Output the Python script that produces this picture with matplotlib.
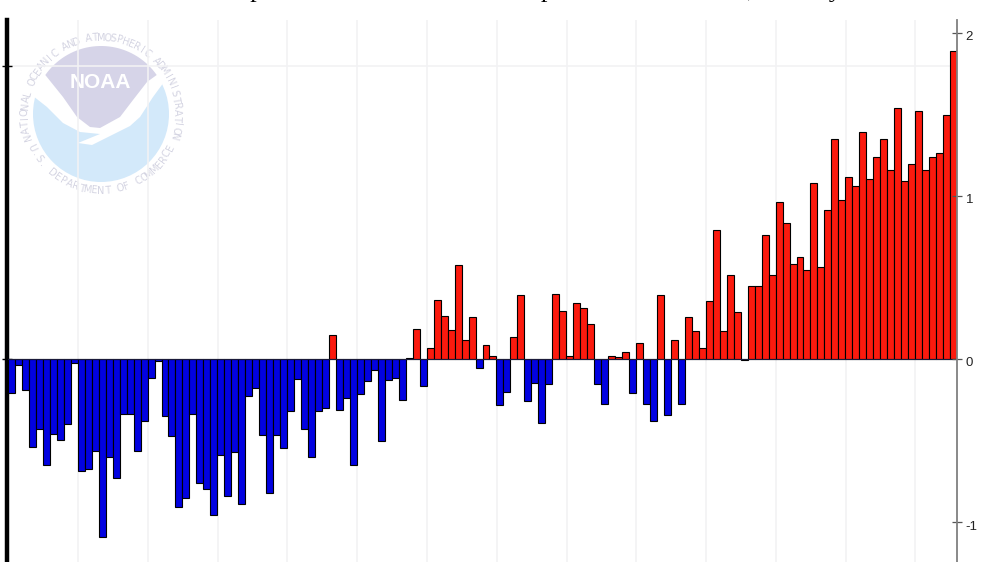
import numpy as np
import matplotlib
matplotlib.use("Agg")
import matplotlib.pyplot as plt
from matplotlib.patches import Circle, Polygon
from matplotlib.transforms import ScaledTranslation

# anomalies, one per year
years = list(range(1880, 2016))
anomalies = [
    -0.21, -0.035, -0.19, -0.54, -0.43, -0.65, -0.46, -0.495, -0.40, -0.025,
    -0.685, -0.675, -0.565, -1.09, -0.60, -0.73, -0.335, -0.34, -0.565, -0.38,
    -0.115, -0.01, -0.35, -0.47, -0.91, -0.85, -0.34, -0.76, -0.80, -0.955,
    -0.59, -0.84, -0.57, -0.89, -0.23, -0.18, -0.465, -0.825, -0.465, -0.545,
    -0.32, -0.12, -0.43, -0.60, -0.32, -0.30, 0.147, -0.31, -0.24, -0.65,
    -0.215, -0.135, -0.07, -0.50, -0.13, -0.115, -0.25, 0.005, 0.185, -0.165,
    0.07, 0.36, 0.265, 0.18, 0.575, 0.115, 0.26, -0.057, 0.085, 0.02,
    -0.28, -0.205, 0.137, 0.395, -0.255, -0.145, -0.39, -0.155, 0.40, 0.295,
    0.02, 0.345, 0.31, 0.215, -0.155, -0.275, 0.02, 0.015, 0.045, -0.21,
    0.098, -0.275, -0.38, 0.39, -0.345, 0.115, -0.275, 0.258, 0.17, 0.07,
    0.354, 0.793, 0.174, 0.513, 0.288, -0.005, 0.45, 0.446, 0.763, 0.513,
    0.963, 0.834, 0.585, 0.628, 0.548, 1.078, 0.564, 0.916, 1.348, 0.977,
    1.117, 1.06, 1.395, 1.106, 1.237, 1.348, 1.157, 1.54, 1.09, 1.198,
    1.523, 1.157, 1.24, 1.264, 1.497, 1.89,
]
right_ticks = [-1, 0, 1, 2]
right_labels = ["-1", "0", "1", "2"]
left_ticks = [0, 1.8]
grid_years = list(range(1890, 2011, 10))
title = "Northern Hemisphere Land and Ocean Temperature Anomalies, January-December"

W, H = 1000, 562
fig = plt.figure(figsize=(W / 100, H / 100), dpi=100)

# logo sits behind everything, drawn in pixel coordinates
bg = fig.add_axes([0, 0, 1, 1], zorder=0)
bg.set_xlim(0, W)
bg.set_ylim(H, 0)
bg.axis("off")

cx, cy, r = 101, 114, 68
lav = "#d6d4e8"
sky = "#d3e9fa"
bg.add_patch(Circle((cx, cy), r, fc=sky, ec="none"))
bird = [(28, 70), (33, 96), (47, 107), (63, 123), (80, 132), (100, 134), (78, 143), (92, 145),
        (110, 136), (130, 126), (140, 117), (153, 97), (164, 82), (172, 60), (100, 30)]
bg.add_patch(Polygon(bird, fc="white", ec="none"))
angles = np.radians(np.linspace(145, 35, 40))
top = [(cx + r * np.cos(a), cy - r * np.sin(a)) for a in angles]
belly = [(147, 82), (133, 100), (120, 117), (100, 128), (90, 127), (77, 117), (63, 97)]
bg.add_patch(Polygon(top + belly, fc=lav, ec="none"))
bg.text(100, 82, "NOAA", color="white", fontsize=15, fontweight="bold", ha="center", va="center",
        family="Liberation Sans")


def ring_text(text, a0, a1, radius, flip=False):
    for ch, a in zip(text, np.linspace(a0, a1, len(text))):
        t = np.radians(a)
        rot = a + 90 if flip else a - 90
        bg.text(cx + radius * np.cos(t), cy - radius * np.sin(t), ch, color="#d4d4e2", fontsize=7,
                rotation=rot, rotation_mode="anchor", ha="center", va="center")


ring_text("NATIONAL OCEANIC AND ATMOSPHERIC ADMINISTRATION", 197, -17, 76)
ring_text("U.S. DEPARTMENT OF COMMERCE", 206, 334, 77, flip=True)

# axes map: x 8-957 px, y=0 at 359 px, 163 px per unit
y_top = (359 - 20) / 163
y_bot = (359 - 562) / 163
ax = fig.add_axes([8 / W, 0, 949 / W, 542 / H], zorder=1)
ax.patch.set_alpha(0)
ax.set_xlim(years[0] - 0.5, years[-1] + 0.5)
ax.set_ylim(y_bot, y_top)

colors = ["#fb1a0e" if v >= 0 else "#0202e0" for v in anomalies]
ax.bar(years, anomalies, width=1.0, color=colors, edgecolor="black", linewidth=0.8, zorder=3)

for yr in grid_years:
    ax.axvline(yr - 0.45, color="#f2f2f4", lw=1.2, zorder=1)
ax.axhline(1.8, color="#f2f2f4", lw=1.2, zorder=1)
ax.axhline(0, color="#1a1a3a", lw=0.8, zorder=4)

ax.set_xticks([])
ax.set_yticks(left_ticks)
ax.set_yticklabels([])
ax.tick_params(axis="y", direction="inout", length=7.5, width=1.0, color="black")
for s in ["top", "bottom", "right"]:
    ax.spines[s].set_visible(False)
ax.spines["left"].set_linewidth(3.2)
ax.spines["left"].set_position(("outward", 0.5))

ax2 = ax.twinx()
ax2.set_ylim(y_bot, y_top)
ax2.set_yticks(right_ticks)
ax2.set_yticklabels(right_labels, fontsize=9.5, color="#222222", family="Liberation Sans")
ax2.tick_params(axis="y", direction="inout", length=6.5, width=0.9, color="#555555", pad=3)
for s in ["top", "bottom", "left"]:
    ax2.spines[s].set_visible(False)
ax2.spines["right"].set_color("#808080")
ax2.spines["right"].set_linewidth(1.3)
for lab in ax2.get_yticklabels():
    lab.set_transform(lab.get_transform() + ScaledTranslation(0, -3 / 100, fig.dpi_scale_trans))

# the heading is cut off by the top edge, only the descenders show
fig.text(79 / W, 1 + 3 / H, title, fontsize=19, family="Liberation Serif", ha="left", va="baseline", color="black")

fig.savefig("out.png", dpi=100)
